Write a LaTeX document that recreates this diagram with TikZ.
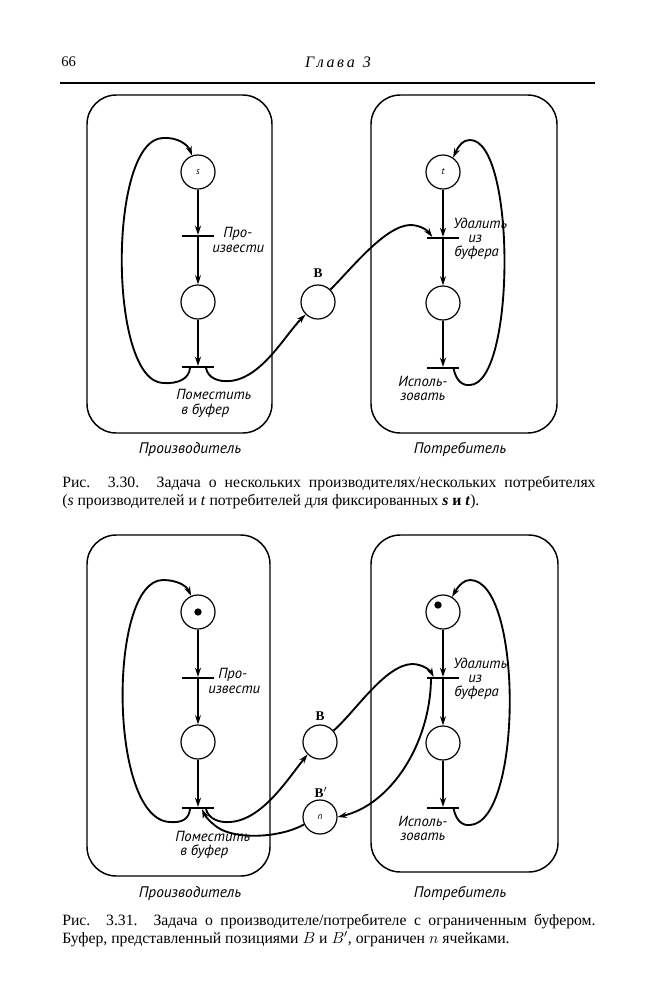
\documentclass[tikz,border=0pt]{standalone}
\usepackage{fontspec}
\setmainfont{Liberation Serif}
\newfontfamily\lbl{PT Sans}
\usetikzlibrary{arrows.meta}
\begin{document}
\begin{tikzpicture}[x=0.75pt,y=-0.75pt,
  place/.style={circle,draw,line width=0.9pt,minimum size=25.5pt,inner sep=0pt,font=\lbl\itshape\fontsize{7}{8}\selectfont},
  trans/.style={rectangle,fill=black,minimum width=24.5pt,minimum height=1.1pt,inner sep=0pt},
  arc/.style={line width=1.4pt,-{Stealth[length=7pt,width=4.5pt]}},
  box/.style={draw,line width=1.1pt,rounded corners=22pt},
  tlabel/.style={font=\lbl\itshape\fontsize{11}{13}\selectfont,anchor=base west,inner sep=0pt},
  title/.style={font=\lbl\itshape\fontsize{11.5}{13}\selectfont,anchor=base,inner sep=0pt},
  blabel/.style={font=\bfseries\fontsize{10}{12}\selectfont,inner sep=0pt},
  token/.style={circle,fill=black,minimum size=5.5pt,inner sep=0pt},
  caption/.style={font=\fontsize{11.8}{13.5}\selectfont,text width=400pt,anchor=north west,inner sep=0pt,align=justify}
]
\useasboundingbox (0,0) rectangle (653,1000);

% header
\node[anchor=base west,inner sep=0pt,font=\fontsize{11}{13}\selectfont] (pg) at (61,66) {66};
\node[anchor=base,inner sep=0pt,font=\itshape\fontsize{12}{13}\selectfont] (ch) at (338,67) {Г\,л\,а\,в\,а\ \ 3};
\draw[line width=1.1pt] (60,83) -- (595,83);

% ================= Figure 3.30 =================
\draw[box] (87,95) rectangle (272,433);
\draw[box] (371,95) rectangle (557,433);

\node[place] (ps1) at (198,172) {s};
\node[trans] (pt1) at (198,236) {};
\node[place] (pm1) at (198,302) {};
\node[trans] (pb1) at (198,367) {};

\node[place] (ct1) at (443,172) {t};
\node[trans] (cu1) at (443,238) {};
\node[place] (cm1) at (443,303) {};
\node[trans] (cb1) at (443,368) {};

\node[place] (bb1) at (318,302) {};
\node[blabel] (bl1) at (318,273) {B};

\draw[arc] (ps1) -- (pt1.north);
\draw[arc] (pt1.south) -- (pm1.north);
\draw[arc] (pm1) -- (pb1.north);
\draw[arc] (ct1) -- (cu1.north);
\draw[arc] (cu1.south) -- (cm1.north);
\draw[arc] (cm1) -- (cb1.north);

\draw[arc] ([xshift=-6pt]pb1.south) .. controls (189,379) and (178,384) .. (163,383)
   .. controls (108,381) and (108,139) .. (163,138)
   .. controls (178,137) and (188,145) .. (ps1.110);
\draw[arc] ([xshift=6pt]pb1.south) .. controls (208,378) and (218,382) .. (230,381)
   .. controls (262,378) and (285,335) .. (bb1.225);
\draw[arc] (bb1.45) .. controls (352,268) and (385,226) .. (410,225)
   .. controls (420,225) and (427,230) .. ([xshift=-8pt]cu1.north);
\draw[arc] ([xshift=8pt]cb1.south) .. controls (456,380) and (462,386) .. (470,385)
   .. controls (516,383) and (516,140) .. (470,140)
   .. controls (463,140) and (459,145) .. (ct1.55);

\node[tlabel] (l1a) at (223,237) {Про-};
\node[tlabel] (l1b) at (212,252) {извести};
\node[tlabel] (l2a) at (176,399) {Поместить};
\node[tlabel] (l2b) at (181,414) {в буфер};
\node[tlabel] (l3a) at (453,228) {Удалить};
\node[tlabel] (l3b) at (468,242) {из};
\node[tlabel] (l3c) at (454,256) {буфера};
\node[tlabel] (l4a) at (398,386) {Исполь-};
\node[tlabel] (l4b) at (400,400) {зовать};

\node[title] (tp1) at (190,453) {Производитель};
\node[title] (tc1) at (460,453) {Потребитель};

\node[caption] (cap1) at (62,476) {Рис. 3.30. Задача о нескольких производителях/нескольких потребителях\linebreak
(\textit{s} производителей и \textit{t} потребителей для фиксированных \textbf{\textit{s}} \textbf{и} \textbf{\textit{t}}).};

% ================= Figure 3.31 =================
\draw[box] (87,535) rectangle (270,876);
\draw[box] (371,535) rectangle (558,872);

\node[place] (ps2) at (198,612) {};
\node[token] (pk2) at (198,612) {};
\node[trans] (pt2) at (198,678) {};
\node[place] (pm2) at (198,742) {};
\node[trans] (pb2) at (198,808) {};

\node[place] (ct2) at (443,612) {};
\node[token] (ck2) at (438,605) {};
\node[trans] (cu2) at (443,678) {};
\node[place] (cm2) at (443,743) {};
\node[trans] (cb2) at (443,808) {};

\node[place] (bb2) at (320,742) {};
\node[blabel] (bl2) at (320,716) {B};
\node[place] (bp2) at (320,817) {n};
\node[blabel] (bl3) at (321,792) {B$'$};

\draw[arc] (ps2) -- (pt2.north);
\draw[arc] (pt2.south) -- (pm2.north);
\draw[arc] (pm2) -- (pb2.north);
\draw[arc] (ct2) -- (cu2.north);
\draw[arc] (cu2.south) -- (cm2.north);
\draw[arc] (cm2) -- (cb2.north);

\draw[arc] ([xshift=-6pt]pb2.south) .. controls (189,819) and (182,823) .. (170,822)
   .. controls (108,820) and (108,580) .. (163,580)
   .. controls (176,580) and (186,585) .. (ps2.113);
\draw[arc] ([xshift=6pt]pb2.south) .. controls (208,818) and (218,823) .. (230,822)
   .. controls (262,820) and (287,780) .. (bb2.225);
\draw[arc] (bb2.40) .. controls (355,712) and (385,665) .. (412,664)
   .. controls (422,664) and (430,670) .. ([xshift=-7pt]cu2.north);
\draw[arc] ([xshift=-9pt]cu2.south) .. controls (430,745) and (390,805) .. (bp2.east);
\draw[arc] (bp2.205) .. controls (280,838) and (235,840) .. (217,827)
   .. controls (210,822) and (205,816) .. ([xshift=3pt]pb2.south);
\draw[arc] ([xshift=8pt]cb2.south) .. controls (456,820) and (462,826) .. (470,825)
   .. controls (523,822) and (523,580) .. (470,580)
   .. controls (464,580) and (459,585) .. (ct2.59);

\node[tlabel] (m1a) at (218,678) {Про-};
\node[tlabel] (m1b) at (208,693) {извести};
\node[tlabel] (m2a) at (175,841) {Поместить};
\node[tlabel] (m2b) at (180,855) {в буфер};
\node[tlabel] (m3a) at (453,668) {Удалить};
\node[tlabel] (m3b) at (468,682) {из};
\node[tlabel] (m3c) at (454,696) {буфера};
\node[tlabel] (m4a) at (398,826) {Исполь-};
\node[tlabel] (m4b) at (400,840) {зовать};

\node[title] (tp2) at (190,897) {Производитель};
\node[title] (tc2) at (460,897) {Потребитель};

\node[caption] (cap2) at (62,914) {Рис. 3.31. Задача о производителе/потребителе с ограниченным буфером.\linebreak
Буфер, представленный позициями $B$ и $B'$, ограничен $n$ ячейками.};
\end{tikzpicture}
\end{document}
